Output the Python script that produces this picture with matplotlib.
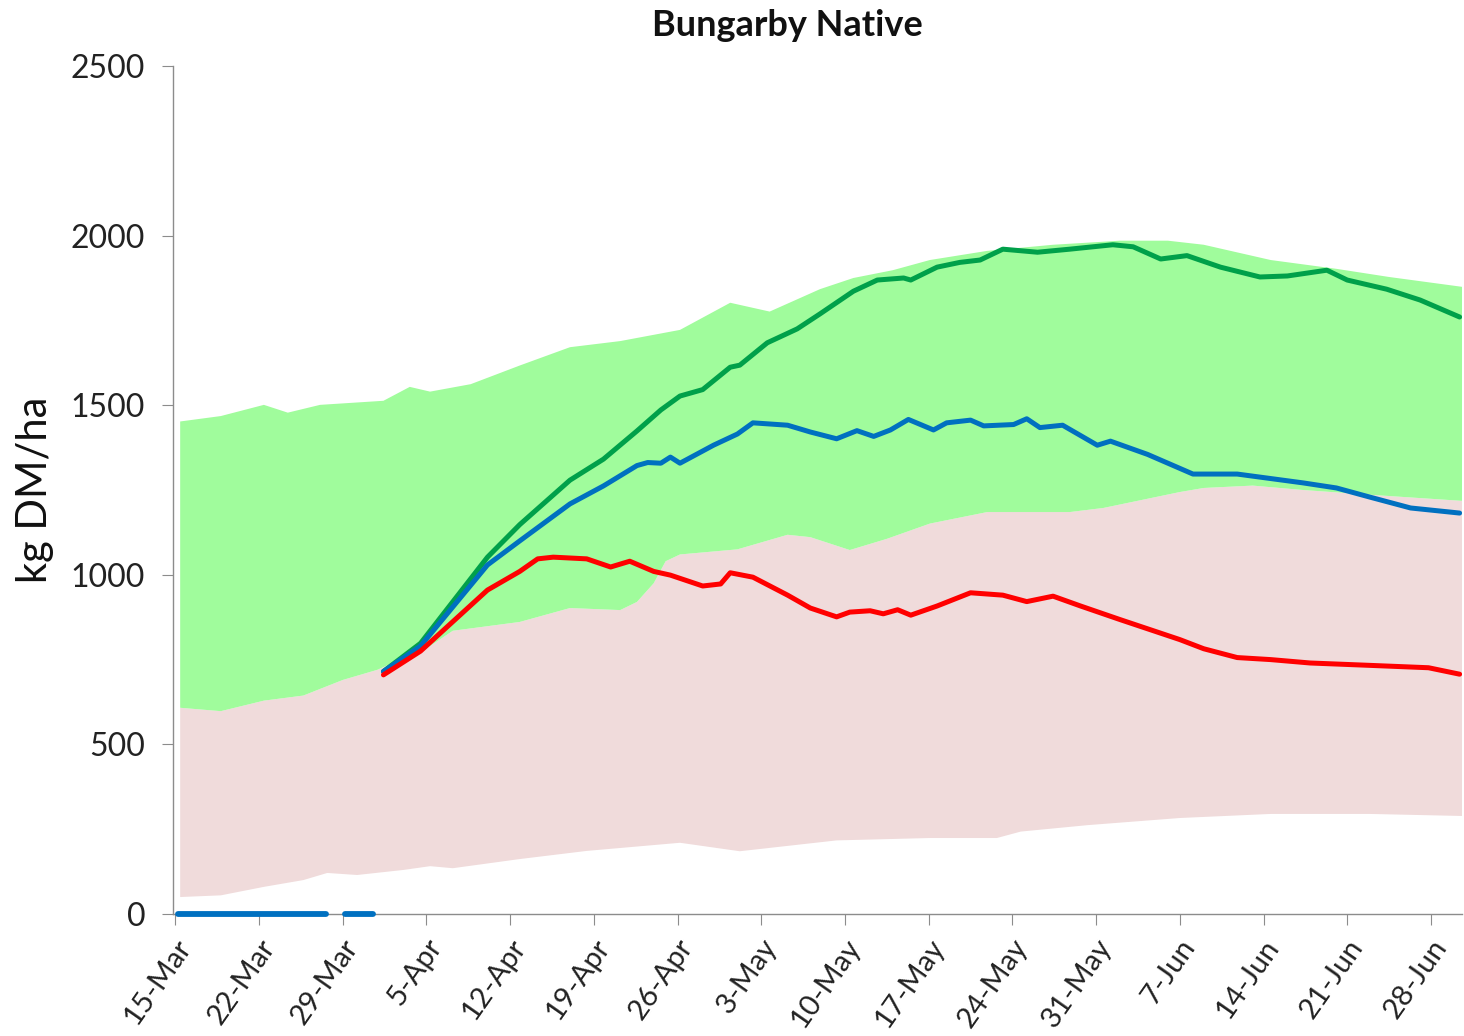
import numpy as np
import matplotlib
matplotlib.use('Agg')
import matplotlib.pyplot as plt
import matplotlib.transforms as mtransforms

plt.rcParams['font.family'] = ['Lato', 'DejaVu Sans']

# x values are days after 15-Mar
tick_days = [0, 7, 14, 21, 28, 35, 42, 49, 56, 63, 70, 77, 84, 91, 98, 105]
tick_labels = ['15-Mar', '22-Mar', '29-Mar', '5-Apr', '12-Apr', '19-Apr', '26-Apr', '3-May',
               '10-May', '17-May', '24-May', '31-May', '7-Jun', '14-Jun', '21-Jun', '28-Jun']

# top of the green band
upper_days = [0.4, 3.8, 7.4, 9.4, 12.1, 17.4, 19.6, 21.3, 24.7, 28.8, 33.0, 37.2, 42.2, 46.4,
              49.7, 53.9, 56.7, 60.0, 63.1, 67.9, 73.4, 79.0, 83.0, 86.0, 91.6, 97.1, 101.5, 107.6]
upper_vals = [1452, 1468, 1501, 1478, 1501, 1513, 1554, 1540, 1562, 1617, 1671, 1689, 1722, 1802,
              1776, 1842, 1875, 1898, 1928, 1955, 1973, 1985, 1985, 1973, 1928, 1902, 1878, 1849]

# boundary between green and pink bands
mid_days = [0.4, 3.8, 7.4, 10.7, 14.0, 16.9, 21.3, 23.2, 28.8, 33.0, 37.2, 38.6, 40.0, 41.0,
            42.2, 47.0, 51.2, 53.1, 56.4, 59.5, 63.1, 67.9, 74.8, 77.6, 84.0, 86.0, 90.1, 94.3,
            99.9, 107.6]
mid_vals = [608, 598, 629, 644, 690, 720, 790, 835, 861, 902, 896, 920, 975, 1040,
            1060, 1075, 1118, 1111, 1073, 1106, 1151, 1185, 1185, 1197, 1244, 1256, 1263, 1250,
            1236, 1218]

# bottom of the pink band
lower_days = [0.4, 3.8, 7.4, 10.7, 12.7, 15.2, 19.1, 21.3, 23.2, 28.8, 34.4, 42.2, 47.2, 55.3,
              63.1, 68.7, 70.7, 76.3, 84.0, 91.6, 99.9, 107.6]
lower_vals = [50, 55, 80, 100, 121, 115, 130, 141, 135, 162, 186, 210, 185, 217,
              224, 224, 243, 262, 283, 295, 295, 289]

green_days = [17.4, 20.5, 26.1, 28.8, 33.0, 35.8, 38.6, 40.6, 42.2, 44.1, 46.4, 47.2, 49.5, 52.0,
              53.9, 56.7, 58.7, 60.9, 61.5, 63.7, 65.6, 67.3, 69.2, 72.1, 74.8, 78.4, 80.1, 82.4,
              84.6, 87.4, 90.7, 93.0, 96.3, 98.0, 101.3, 104.1, 107.4]
green_vals = [715, 798, 1052, 1148, 1279, 1341, 1424, 1486, 1527, 1546, 1612, 1618, 1684, 1725,
              1769, 1836, 1869, 1875, 1869, 1907, 1921, 1928, 1960, 1951, 1960, 1973, 1967, 1931,
              1941, 1907, 1878, 1881, 1898, 1869, 1842, 1810, 1760]

blue_days = [17.4, 20.5, 26.1, 28.8, 33.0, 35.8, 38.6, 39.5, 40.6, 41.4, 42.2, 45.0, 47.0, 48.3,
             51.2, 53.1, 55.3, 57.0, 58.4, 59.8, 61.3, 63.4, 64.5, 66.5, 67.6, 70.1, 71.2, 72.3,
             74.2, 77.1, 78.2, 81.3, 85.1, 88.8, 94.3, 97.1, 99.9, 103.3, 107.4]
blue_vals = [715, 790, 1029, 1100, 1209, 1262, 1322, 1331, 1329, 1347, 1329, 1382, 1415, 1448,
             1441, 1421, 1401, 1425, 1408, 1427, 1458, 1427, 1448, 1456, 1439, 1443, 1460, 1434,
             1441, 1382, 1394, 1355, 1297, 1297, 1271, 1256, 1229, 1197, 1182]

red_days = [17.4, 20.5, 26.1, 28.8, 30.3, 31.6, 34.4, 36.4, 38.0, 40.0, 41.4, 44.1, 45.6, 46.4,
            48.3, 51.2, 53.1, 55.3, 56.4, 58.1, 59.2, 60.4, 61.5, 63.7, 66.5, 69.2, 71.2, 73.4,
            75.7, 79.0, 84.0, 86.0, 88.8, 91.6, 94.9, 99.9, 104.8, 107.4]
red_vals = [705, 775, 955, 1010, 1047, 1052, 1047, 1023, 1040, 1010, 999, 967, 973, 1006,
            993, 940, 902, 876, 890, 894, 885, 897, 881, 908, 947, 940, 921, 937,
            908, 868, 809, 782, 756, 750, 740, 733, 726, 707]

# blue series sitting at zero before the season starts (with one missing day)
zero_days = [0.2, 12.6, 13.4, 14.2, 16.5]
zero_vals = [0, 0, np.nan, 0, 0]

fig = plt.figure(figsize=(14.64, 10.36), dpi=100)
ax = fig.add_axes([173 / 1464, 1 - 914 / 1036, (1462 - 173) / 1464, (914 - 66) / 1036])

# bands drawn as polygons: pink = lower..mid, green = mid..upper
pink_x = list(mid_days) + list(lower_days[::-1])
pink_y = list(mid_vals) + list(lower_vals[::-1])
ax.fill(pink_x, pink_y, color='#F0DBDB', lw=0, zorder=1)
green_x = list(upper_days) + list(mid_days[::-1])
green_y = list(upper_vals) + list(mid_vals[::-1])
ax.fill(green_x, green_y, color='#A0FC9C', lw=0, zorder=2)

lw = 3.6
ax.plot(zero_days, zero_vals, color='#0070C0', lw=lw + 0.6, solid_capstyle='round', zorder=4,
        clip_on=False)
ax.plot(green_days, green_vals, color='#00A04A', lw=lw, solid_capstyle='round', zorder=4)
ax.plot(blue_days, blue_vals, color='#0070C0', lw=lw, solid_capstyle='round', zorder=5)
ax.plot(red_days, red_vals, color='#FF0000', lw=lw, solid_capstyle='round', zorder=6)

ax.set_xlim(-0.2, 107.6)
ax.set_ylim(0, 2500)
ax.set_yticks([0, 500, 1000, 1500, 2000, 2500])
ax.set_xticks(tick_days)
ax.set_xticklabels(tick_labels, rotation=55, ha='right', va='center', rotation_mode='anchor')

for side in ['top', 'right']:
    ax.spines[side].set_visible(False)
for side in ['left', 'bottom']:
    ax.spines[side].set_color('#8C8C8C')
    ax.spines[side].set_linewidth(1.0)

ax.tick_params(axis='y', direction='out', length=8, color='#8C8C8C', labelsize=23, pad=12,
               labelcolor='#222222')
ax.tick_params(axis='x', direction='out', length=8, color='#8C8C8C', labelsize=21, pad=12,
               labelcolor='#222222')

offset = mtransforms.ScaledTranslation(10 / 100, 0, fig.dpi_scale_trans)
for lbl in ax.get_xticklabels():
    lbl.set_transform(lbl.get_transform() + offset)

fig.text(35 / 1464, 1 - 490 / 1036, 'kg DM/ha', rotation=90, ha='center', va='center',
         fontsize=30, color='#111111')
fig.text(787 / 1464, 1 - 25 / 1036, 'Bungarby Native', ha='center', va='center',
         fontsize=26, fontweight='bold', color='#111111')

plt.savefig('out.png', dpi=100, facecolor='white')
